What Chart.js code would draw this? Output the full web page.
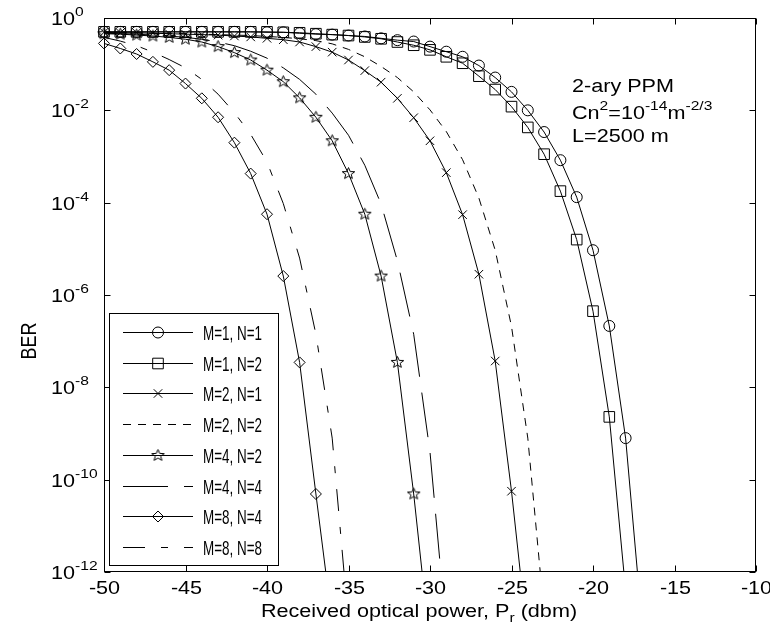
<!DOCTYPE html>
<html>
<head>
<meta charset="utf-8">
<script src="https://cdn.jsdelivr.net/npm/chart.js@4.4.0/dist/chart.umd.min.js"></script>
<style>
  html, body { margin: 0; padding: 0; background: #fff; }
  #wrap { width: 770px; height: 632px; }
</style>
</head>
<body>
<div id="wrap"><canvas id="berChart" width="770" height="632"></canvas></div>
<script>
// received optical power (dBm), one sample per dB
const powerDbm = [-50, -49, -48, -47, -46, -45, -44, -43, -42, -41, -40, -39, -38, -37, -36, -35, -34,
  -33, -32, -31, -30, -29, -28, -27, -26, -25, -24, -23, -22, -21, -20, -19, -18, -17];

// log10(BER), starting at -50 dBm
const logBerM1N1 = [-0.30, -0.30, -0.30, -0.30, -0.30, -0.30, -0.30, -0.30, -0.30, -0.30, -0.31, -0.31,
  -0.33, -0.35, -0.36, -0.38, -0.40, -0.44, -0.48, -0.51, -0.62, -0.73, -0.84, -1.03, -1.29, -1.60,
  -2.00, -2.47, -3.08, -3.88, -5.03, -6.67, -9.10, -13.1];
const logBerM1N2 = [-0.30, -0.30, -0.30, -0.30, -0.30, -0.30, -0.30, -0.30, -0.30, -0.30, -0.30, -0.31,
  -0.32, -0.34, -0.36, -0.38, -0.41, -0.45, -0.52, -0.59, -0.69, -0.84, -0.98, -1.26, -1.55, -1.92,
  -2.37, -2.95, -3.75, -4.80, -6.35, -8.64, -12.4];
const logBerM2N1 = [-0.31, -0.32, -0.32, -0.33, -0.34, -0.35, -0.36, -0.37, -0.39, -0.41, -0.44, -0.47,
  -0.52, -0.62, -0.74, -0.91, -1.14, -1.39, -1.74, -2.16, -2.66, -3.35, -4.26, -5.55, -7.43, -10.25,
  -13.5];
const logBerM2N2 = [-0.31, -0.32, -0.32, -0.33, -0.33, -0.34, -0.35, -0.36, -0.37, -0.38, -0.40, -0.42,
  -0.45, -0.49, -0.56, -0.68, -0.84, -1.05, -1.29, -1.60, -1.99, -2.46, -3.07, -3.90, -5.03, -6.68,
  -9.10, -12.9];
const logBerM4N2 = [-0.34, -0.35, -0.37, -0.39, -0.42, -0.46, -0.52, -0.62, -0.75, -0.91, -1.13, -1.38,
  -1.73, -2.15, -2.66, -3.37, -4.25, -5.59, -7.46, -10.31, -13.6];
const logBerM4N4 = [-0.33, -0.34, -0.35, -0.37, -0.39, -0.42, -0.46, -0.52, -0.60, -0.72, -0.87, -1.08,
  -1.33, -1.65, -2.06, -2.54, -3.19, -4.03, -5.26, -6.85, -9.40, -13.3];
const logBerM8N4 = [-0.55, -0.66, -0.78, -0.95, -1.13, -1.42, -1.74, -2.15, -2.70, -3.37, -4.25, -5.59,
  -7.46, -10.31, -13.1];
const logBerM8N8 = [-0.42, -0.50, -0.60, -0.74, -0.90, -1.08, -1.33, -1.65, -2.05, -2.52, -3.12, -4.02,
  -5.20, -6.85, -9.10, -13.1];

const seriesLabels = ["M=1, N=1", "M=1, N=2", "M=2, N=1", "M=2, N=2", "M=4, N=2", "M=4, N=4", "M=8, N=4", "M=8, N=8"];
const xTicks = [-50, -45, -40, -35, -30, -25, -20, -15, -10];
const yTickExps = [0, -2, -4, -6, -8, -10, -12];

const FONT = "'Liberation Sans', Arial, Helvetica, sans-serif";
const NARROW = "'Liberation Sans Narrow', 'Arial Narrow', 'Liberation Sans', sans-serif";
const SX = 1.2;

// five pointed star marker (matlab 'p')
function makeStar() {
  const c = document.createElement("canvas");
  c.width = 15;
  c.height = 15;
  const g = c.getContext("2d");
  g.strokeStyle = "#000";
  g.lineWidth = 1;
  g.beginPath();
  for (let k = 0; k < 10; k++) {
    const r = k % 2 === 0 ? 6 : 2.6;
    const ang = -Math.PI / 2 + k * Math.PI / 5;
    const px = 7.5 + r * Math.cos(ang) * 1.1;
    const py = 7.5 + r * Math.sin(ang);
    if (k === 0) g.moveTo(px, py); else g.lineTo(px, py);
  }
  g.closePath();
  g.stroke();
  return c;
}
const starMarker = makeStar();

function toPoints(logBer) {
  return logBer.map((v, i) => ({ x: powerDbm[i], y: Math.pow(10, v) }));
}

function makeDataset(idx, logBer, pointStyle, radius, dash) {
  return {
    label: seriesLabels[idx],
    data: toPoints(logBer),
    borderColor: "#000",
    borderWidth: 1,
    borderDash: dash,
    pointStyle: pointStyle,
    pointRadius: radius,
    pointBorderColor: "#000",
    pointBackgroundColor: "rgba(0,0,0,0)",
    pointBorderWidth: 1,
    tension: 0,
    clip: { left: 12, top: 12, right: 12, bottom: 0 },
  };
}

const datasets = [
  makeDataset(0, logBerM1N1, "circle", 5.5, []),
  makeDataset(1, logBerM1N2, "rect", 7.5, []),
  makeDataset(2, logBerM2N1, "crossRot", 6, []),
  makeDataset(3, logBerM2N2, false, 0, [8, 7]),
  makeDataset(4, logBerM4N2, starMarker, 6, []),
  makeDataset(5, logBerM4N4, false, 0, [45, 16]),
  makeDataset(6, logBerM8N4, "rectRot", 5.5, []),
  makeDataset(7, logBerM8N8, false, 0, [22, 16, 7, 16]),
];

// draw text stretched horizontally like the reference
function putText(ctx, str, x, y, size, family, sx) {
  ctx.font = size + "px " + family;
  ctx.save();
  ctx.translate(x, y);
  ctx.scale(sx, 1);
  ctx.fillText(str, 0, 0);
  ctx.restore();
  return ctx.measureText(str).width * sx;
}

function richWidth(ctx, parts) {
  let w = 0;
  parts.forEach((p) => {
    ctx.font = (p.sup || p.sub ? 13 : 18) + "px " + FONT;
    w += ctx.measureText(p.t).width * SX;
  });
  return w;
}

function putRich(ctx, parts, x, baseline) {
  let cx = x;
  parts.forEach((p) => {
    if (p.sup) cx += putText(ctx, p.t, cx, baseline - 9, 13, FONT, SX);
    else if (p.sub) cx += putText(ctx, p.t, cx, baseline + 5, 13, FONT, SX);
    else cx += putText(ctx, p.t, cx, baseline, 18, FONT, SX);
  });
  return cx - x;
}

function drawMarker(ctx, style, r, x, y) {
  ctx.save();
  ctx.strokeStyle = "#000";
  ctx.lineWidth = 1;
  ctx.setLineDash([]);
  ctx.beginPath();
  if (style === "circle") {
    ctx.arc(x, y, r, 0, Math.PI * 2);
  } else if (style === "rect") {
    const s = Math.SQRT1_2 * r;
    ctx.rect(x - s, y - s, 2 * s, 2 * s);
  } else if (style === "crossRot") {
    const d = Math.SQRT1_2 * r;
    ctx.moveTo(x - d, y - d); ctx.lineTo(x + d, y + d);
    ctx.moveTo(x - d, y + d); ctx.lineTo(x + d, y - d);
  } else if (style === "rectRot") {
    ctx.moveTo(x - r, y); ctx.lineTo(x, y - r); ctx.lineTo(x + r, y); ctx.lineTo(x, y + r);
    ctx.closePath();
  } else if (style && style.getContext) {
    ctx.drawImage(style, x - style.width / 2, y - style.height / 2);
  }
  ctx.stroke();
  ctx.restore();
}

const decorations = {
  id: "decorations",
  afterDatasetsDraw(chart) {
    const { ctx, chartArea: a, scales } = chart;
    const left = Math.round(a.left) + 0.5;
    const right = Math.round(a.right) - 0.5;
    const top = Math.round(a.top) + 0.5;
    const bottom = Math.round(a.bottom) - 0.5;

    ctx.save();
    ctx.strokeStyle = "#000";
    ctx.fillStyle = "#000";
    ctx.lineWidth = 1;
    ctx.setLineDash([]);
    ctx.strokeRect(left, top, right - left, bottom - top);

    ctx.textBaseline = "alphabetic";
    ctx.textAlign = "left";

    // x ticks, inward on top and bottom
    xTicks.forEach((v) => {
      const px = Math.round(scales.x.getPixelForValue(v)) + 0.5;
      ctx.beginPath();
      ctx.moveTo(px, bottom); ctx.lineTo(px, bottom - 6);
      ctx.moveTo(px, top); ctx.lineTo(px, top + 6);
      ctx.stroke();
      const label = String(v);
      ctx.font = "18px " + FONT;
      const w = ctx.measureText(label).width * SX;
      putText(ctx, label, px - w / 2, 594, 18, FONT, SX);
    });

    // y ticks, every two decades
    yTickExps.forEach((e) => {
      const py = Math.round(scales.y.getPixelForValue(Math.pow(10, e))) + 0.5;
      ctx.beginPath();
      ctx.moveTo(left, py); ctx.lineTo(left + 6, py);
      ctx.moveTo(right, py); ctx.lineTo(right - 6, py);
      ctx.stroke();
      putRich(ctx, [{ t: "10" }, { t: String(e), sup: true }], 51, py + 6.5);
    });

    // axis titles
    const xTitle = [{ t: "Received optical power, P" }, { t: "r", sub: true }, { t: " (dbm)" }];
    putRich(ctx, xTitle, 419 - richWidth(ctx, xTitle) / 2, 617);

    ctx.save();
    ctx.translate(30, 341);
    ctx.scale(SX, 1);
    ctx.rotate(-Math.PI / 2);
    ctx.font = "18px " + FONT;
    ctx.textAlign = "center";
    ctx.textBaseline = "middle";
    ctx.fillText("BER", 0, 0);
    ctx.restore();

    // annotation
    putRich(ctx, [{ t: "2-ary PPM" }], 572, 92);
    putRich(ctx, [{ t: "Cn" }, { t: "2", sup: true }, { t: "=10" }, { t: "-14", sup: true },
      { t: "m" }, { t: "-2/3", sup: true }], 572, 119);
    putRich(ctx, [{ t: "L=2500 m" }], 572, 142);

    // legend box
    const lx = 109, ly = 313, lw = 169, lh = 252;
    ctx.fillStyle = "#fff";
    ctx.fillRect(lx, ly, lw, lh);
    ctx.strokeRect(lx + 0.5, ly + 0.5, lw, lh);
    ctx.fillStyle = "#000";
    ctx.font = "21px " + NARROW;
    const nsx = 59 / ctx.measureText("M=1, N=1").width;
    chart.data.datasets.forEach((ds, i) => {
      const ry = Math.round(332 + i * 30.7) + 0.5;
      ctx.save();
      ctx.setLineDash(ds.borderDash || []);
      ctx.beginPath();
      ctx.moveTo(123, ry);
      ctx.lineTo(193, ry);
      ctx.stroke();
      ctx.restore();
      if (ds.pointStyle) drawMarker(ctx, ds.pointStyle, ds.pointRadius, 158, ry);
      putText(ctx, ds.label, 203, ry + 7.5, 21, NARROW, nsx);
    });
    ctx.restore();
  },
};

const chart = new Chart(document.getElementById("berChart").getContext("2d"), {
  type: "line",
  data: { datasets: datasets },
  options: {
    responsive: false,
    animation: false,
    events: [],
    layout: { padding: { left: 104, top: 18, right: 14, bottom: 60 } },
    scales: {
      x: { type: "linear", min: -50, max: -10, display: false },
      y: { type: "logarithmic", min: 1e-12, max: 1, display: false },
    },
    plugins: {
      legend: { display: false },
      tooltip: { enabled: false },
      title: { display: false },
    },
  },
  plugins: [decorations],
});
</script>
</body>
</html>
